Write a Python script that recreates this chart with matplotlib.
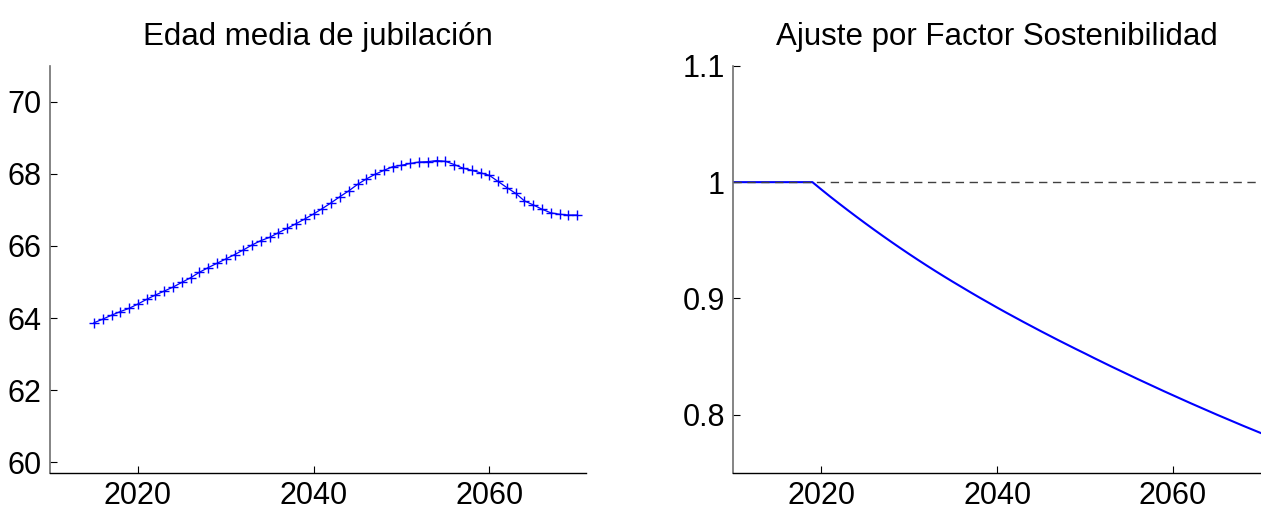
import numpy as np
import matplotlib.pyplot as plt

plt.rcParams["font.family"] = ["Liberation Sans", "DejaVu Sans"]

# Edad media de jubilación, 2015-2070
years_edad = np.arange(2015, 2071)
edad_media = [
    63.87, 63.97, 64.08, 64.18, 64.27, 64.39, 64.52, 64.64, 64.75, 64.86,
    64.99, 65.12, 65.27, 65.40, 65.52, 65.64, 65.76, 65.89, 66.03, 66.15,
    66.24, 66.37, 66.49, 66.62, 66.75, 66.89, 67.04, 67.20, 67.37, 67.53,
    67.71, 67.86, 67.99, 68.10, 68.20, 68.24, 68.29, 68.33, 68.34, 68.37,
    68.35, 68.26, 68.16, 68.10, 68.03, 67.96, 67.79, 67.62, 67.46, 67.25,
    67.14, 67.02, 66.92, 66.88, 66.86, 66.86,
]

# Factor de sostenibilidad, 2010-2070
years_fs = np.arange(2010, 2071)
factor_sost = [
    1.0000, 1.0000, 1.0000, 1.0000, 1.0000, 1.0000, 1.0000, 1.0000, 1.0000, 1.0000,
    0.9938, 0.9877, 0.9818, 0.9760, 0.9703, 0.9647, 0.9592, 0.9538, 0.9485, 0.9433,
    0.9382, 0.9332, 0.9283, 0.9235, 0.9188, 0.9142, 0.9097, 0.9052, 0.9008, 0.8965,
    0.8922, 0.8880, 0.8839, 0.8798, 0.8758, 0.8718, 0.8679, 0.8640, 0.8602, 0.8564,
    0.8527, 0.8489, 0.8452, 0.8415, 0.8379, 0.8343, 0.8307, 0.8272, 0.8237, 0.8202,
    0.8168, 0.8134, 0.8100, 0.8067, 0.8034, 0.8001, 0.7969, 0.7937, 0.7905, 0.7874,
    0.7843,
]
referencia = 1.0


def style_axes(ax):
    for side in ("top", "right"):
        ax.spines[side].set_visible(False)
    ax.spines["left"].set_color("#707070")
    ax.spines["left"].set_linewidth(1.2)
    ax.spines["bottom"].set_linewidth(1.0)
    ax.tick_params(direction="in", length=5, width=0.8, labelsize=22,
                   pad=6, colors="black")


fig = plt.figure(figsize=(12.61, 5.09), dpi=100)

ax1 = fig.add_axes([0.0397, 0.0707, 0.425, 0.800])
ax1.plot(years_edad, edad_media, color="blue", lw=0.9, marker="+",
         markersize=7, markeredgewidth=1.0)
ax1.set_xlim(2010, 2071)
ax1.set_ylim(59.7, 71)
ax1.set_xticks([2020, 2040, 2060])
ax1.set_yticks([60, 62, 64, 66, 68, 70])
ax1.set_title("Edad media de jubilación", fontsize=22.5, pad=15)
style_axes(ax1)

ax2 = fig.add_axes([0.5815, 0.0707, 0.4185, 0.800])
ax2.plot(years_fs, factor_sost, color="blue", lw=1.5)
ax2.plot([years_fs[0], years_fs[-1]], [referencia, referencia],
         color="#404040", lw=1.0, ls=(0, (6, 4)))
ax2.set_xlim(2010, 2070)
ax2.set_ylim(0.75, 1.1)
ax2.set_xticks([2020, 2040, 2060])
ax2.set_yticks([0.8, 0.9, 1.0, 1.1])
ax2.set_yticklabels(["0.8", "0.9", "1", "1.1"])
ax2.set_title("Ajuste por Factor Sostenibilidad", fontsize=22.5, pad=15)
style_axes(ax2)

fig.savefig("out.png", dpi=100)
